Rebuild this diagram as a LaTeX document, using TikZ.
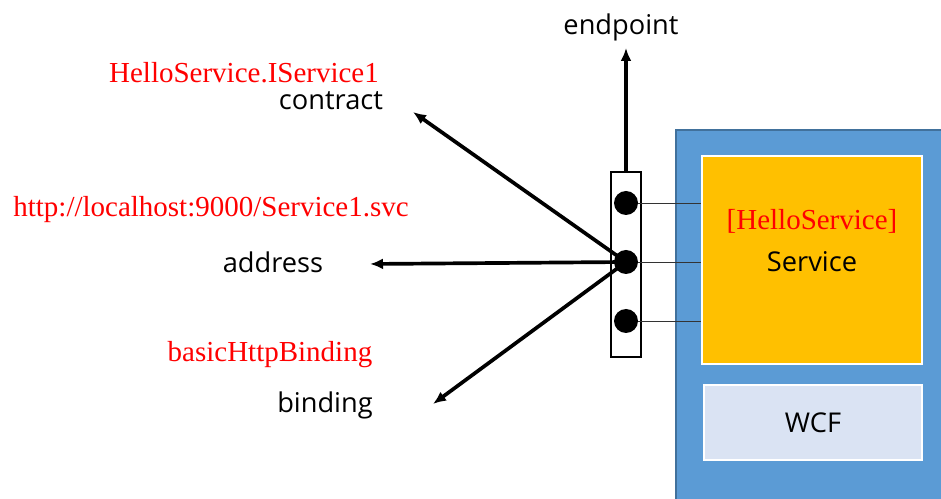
\documentclass[tikz,border=0pt]{standalone}
\usepackage{fontspec}
\setmainfont{Liberation Serif}
\newfontfamily\uifont{Open Sans}
\usepackage{xcolor}
\usetikzlibrary{arrows.meta}

\definecolor{hostblue}{HTML}{5B9BD5}
\definecolor{hostedge}{HTML}{41719C}
\definecolor{svcorange}{HTML}{FFC000}
\definecolor{wcfgray}{HTML}{DAE3F3}

\tikzset{
	lbl/.style = {font = \uifont\fontsize{15.5}{18}\selectfont, inner sep = 0pt},
	val/.style = {font = \fontsize{16.5}{19}\selectfont, text = red, inner sep = 0pt},
	pin/.style = {circle, fill = black, minimum size = 0.48cm, inner sep = 0pt},
	arr/.style = {line width = 2.1pt, -{Latex[length = 0.26cm, width = 0.22cm]}}
}

\begin{document}
\begin{tikzpicture}[x = 0.02cm, y = -0.02cm]
		\useasboundingbox (0,0) rectangle (941,499);
		
		% host box
		\fill [hostblue] (676,130) rectangle (941,499);
		\draw [hostedge, line width = 0.6pt] (676,499) -- (676,130) -- (941,130);
		
		\node [draw = white, line width = 1.2pt, fill = svcorange, minimum width = 4.4cm, minimum height = 4.16cm, inner sep = 0pt] (svc) at (812,260) {};
		\node [draw = white, line width = 1.2pt, fill = wcfgray, minimum width = 4.36cm, minimum height = 1.5cm, inner sep = 0pt] (wcf) at (813,422.5) {};
		
		\node [val] (svcname) at (812,221) {[HelloService]};
		\node [lbl] (svclbl) at (812,262) {Service};
		\node [lbl] (wcflbl) at (813,423) {WCF};
		
		% endpoint bar with its three pins
		\node [draw, line width = 1.3pt, fill = white, minimum width = 0.6cm, minimum height = 3.7cm, inner sep = 0pt] (bar) at (626,264.5) {};
		\node [pin] (p1) at (626,203) {};
		\node [pin] (p2) at (626,262) {};
		\node [pin] (p3) at (626,321) {};
		
		\foreach \p in {p1, p2, p3}
			\draw [line width = 0.5pt, black!80] (\p.east) -- (\p -| svc.west);
		
		% labels on the left
		\node [lbl] (ep) at (621,27) {endpoint};
		\node [val] (contractval) at (244,73) {HelloService.IService1};
		\node [lbl] (contract) at (331,101) {contract};
		\node [val] (addressval) at (211,210) {http://localhost:9000/Service1.svc};
		\node [lbl] (address) at (273,262) {address};
		\node [val] (bindingval) at (270,355) {basicHttpBinding};
		\node [lbl] (binding) at (325,405) {binding};
		
		\coordinate (eptip) at (626,48);
		\coordinate (ctip) at (413,112);
		\coordinate (atip) at (370,264);
		\coordinate (btip) at (433,404);
		
		\draw [arr] (bar.north) -- (eptip);
		\draw [arr] (p2.center) -- (ctip);
		\draw [arr] (p2.center) -- (atip);
		\draw [arr] (p2.center) -- (btip);
	\end{tikzpicture}
\end{document}
